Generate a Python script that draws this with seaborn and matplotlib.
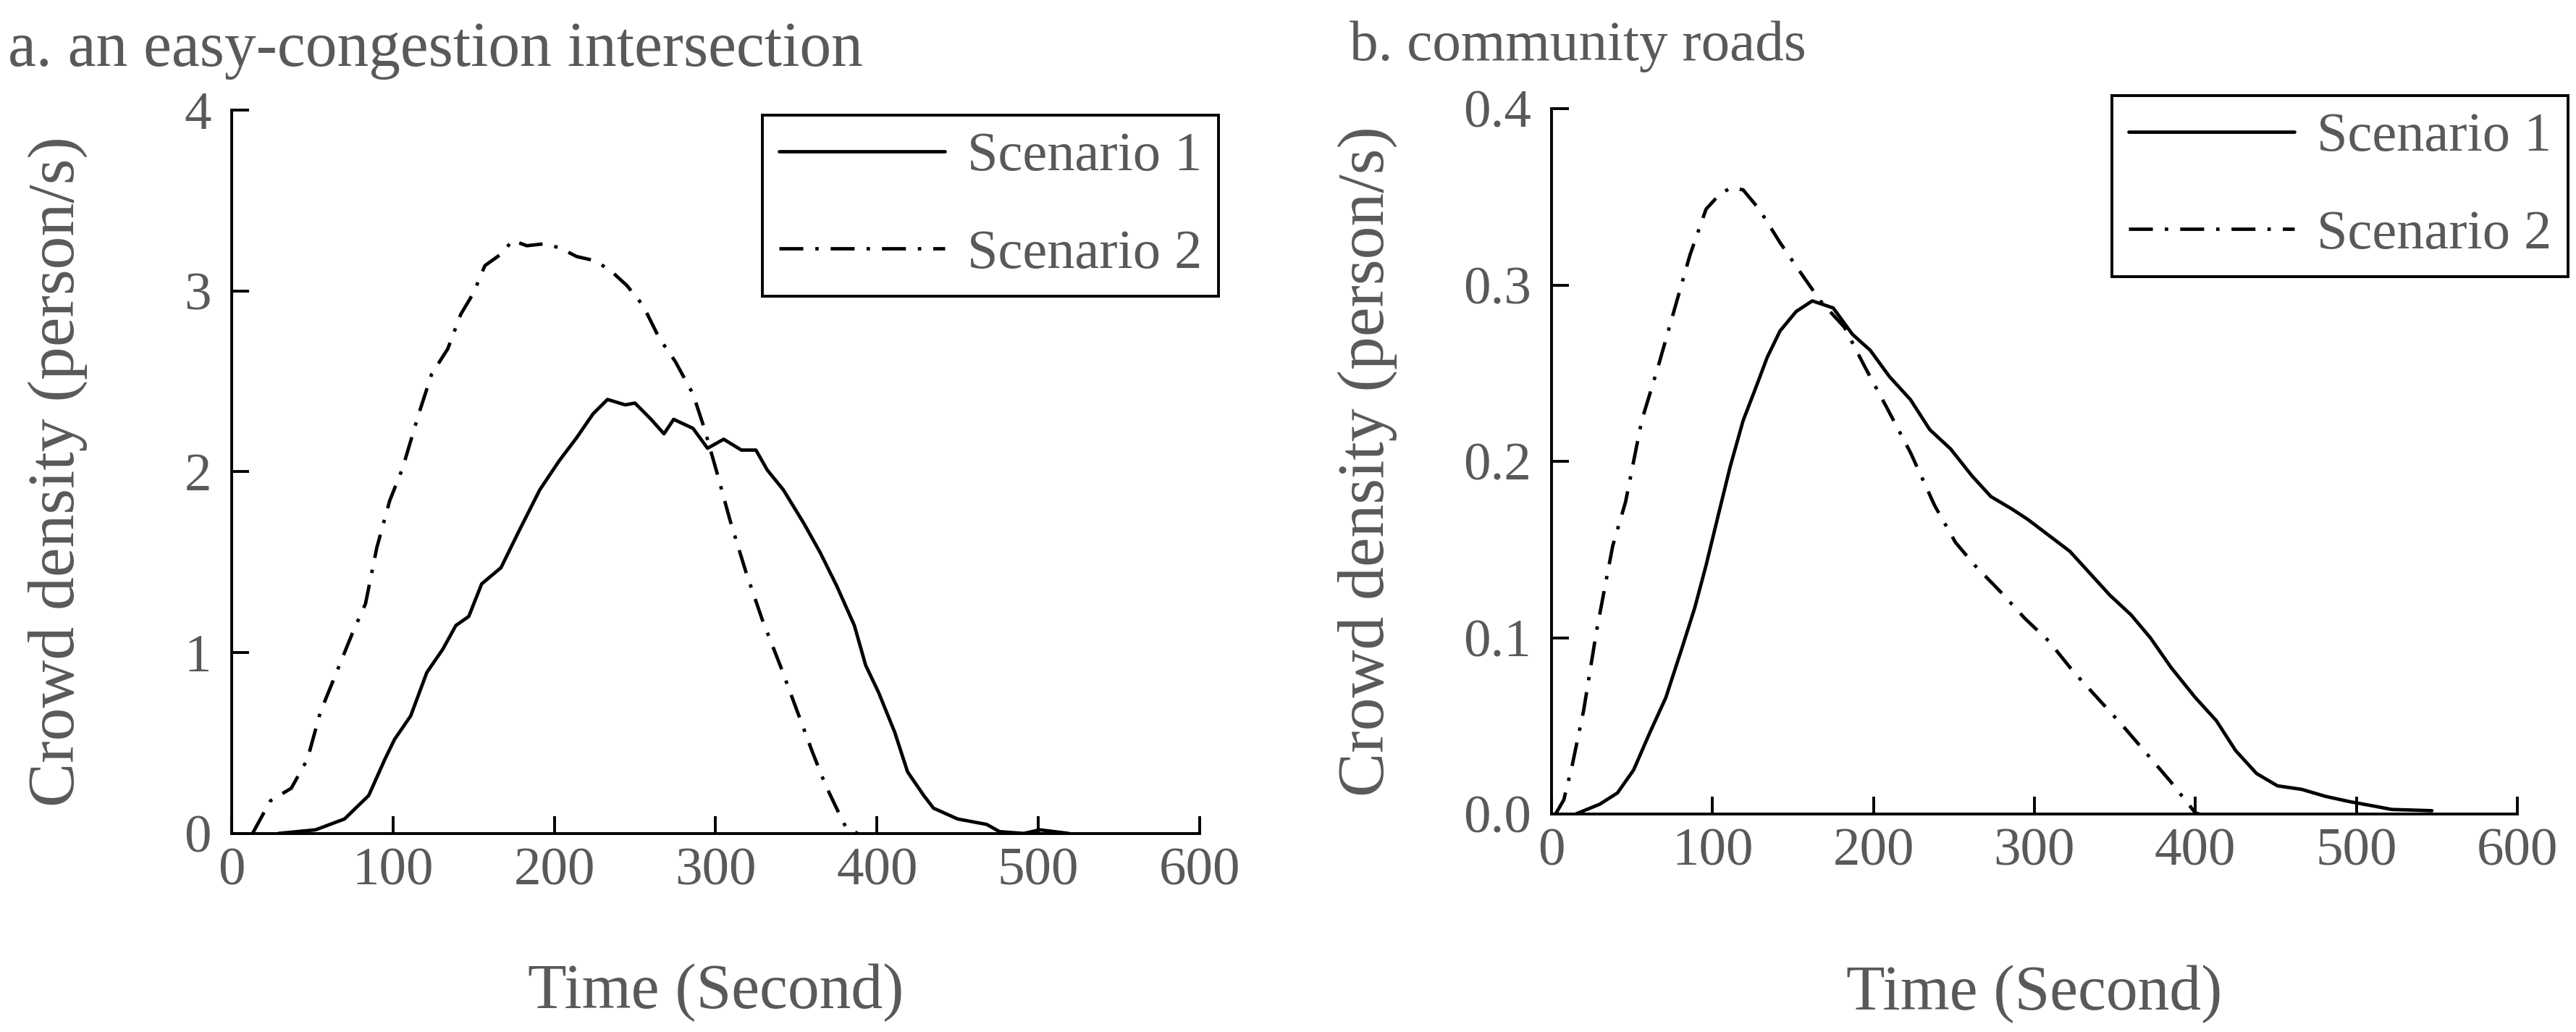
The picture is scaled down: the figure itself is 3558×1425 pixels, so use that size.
import matplotlib
matplotlib.use("Agg")
import matplotlib.pyplot as plt
import seaborn as sns
import numpy as np

# panel a: an easy-congestion intersection
a_s1_time = [29, 52, 70, 85, 95, 101, 111, 121, 131, 139, 147, 155, 167, 178, 191, 203, 214,
             224, 233, 244, 250, 260, 268, 274, 286, 295, 305, 316, 325, 332, 342, 355, 365,
             375, 386, 393, 401, 411, 419, 429, 435, 450, 468, 476, 491, 501, 519]
a_s1_density = [0.0, 0.02, 0.08, 0.21, 0.41, 0.52, 0.65, 0.89, 1.02, 1.15, 1.2, 1.38, 1.47,
                1.67, 1.9, 2.06, 2.19, 2.32, 2.4, 2.37, 2.38, 2.29, 2.21, 2.29, 2.24, 2.13,
                2.18, 2.12, 2.12, 2.01, 1.9, 1.71, 1.55, 1.37, 1.15, 0.93, 0.78, 0.56, 0.34,
                0.21, 0.14, 0.08, 0.05, 0.01, 0.0, 0.02, 0.0]
a_s2_time = [13, 24, 37, 47, 55, 65, 75, 83, 90, 98, 106, 116, 124, 134, 142, 150, 157, 168,
             174, 183, 193, 203, 214, 224, 234, 245, 255, 265, 275, 286, 293, 301, 309, 319,
             329, 340, 350, 360, 368, 376, 381, 388]
a_s2_density = [0.0, 0.18, 0.25, 0.41, 0.67, 0.89, 1.11, 1.27, 1.58, 1.84, 2.02, 2.32, 2.54,
                2.68, 2.87, 2.99, 3.14, 3.21, 3.28, 3.25, 3.26, 3.24, 3.19, 3.17, 3.12, 3.03,
                2.92, 2.74, 2.61, 2.43, 2.24, 1.99, 1.73, 1.44, 1.18, 0.93, 0.69, 0.45, 0.27,
                0.12, 0.03, 0.0]

# panel b: community roads
b_s1_time = [15, 30, 41, 51, 61, 71, 81, 89, 96, 104, 111, 119, 127, 134, 142, 152, 162, 175,
             187, 198, 210, 223, 235, 248, 261, 273, 286, 296, 309, 322, 334, 347, 360, 372,
             385, 400, 413, 425, 438, 451, 466, 481, 496, 511, 522, 547]
b_s1_density = [0.0, 0.0056, 0.012, 0.025, 0.046, 0.066, 0.094, 0.117, 0.141, 0.171, 0.197,
                0.223, 0.242, 0.259, 0.274, 0.285, 0.291, 0.287, 0.272, 0.263, 0.248, 0.235,
                0.218, 0.207, 0.192, 0.180, 0.173, 0.167, 0.158, 0.149, 0.137, 0.124, 0.113,
                0.100, 0.083, 0.066, 0.053, 0.036, 0.023, 0.016, 0.014, 0.010, 0.007, 0.0045,
                0.0026, 0.0019]
b_s2_time = [2.5, 7.6, 12.7, 20, 28, 38, 46, 56, 66, 76, 86, 96, 104, 111, 119, 129, 142, 154,
             167, 182, 195, 208, 223, 238, 251, 263, 279, 294, 309, 324, 339, 354, 370, 385,
             395, 400, 402.5]
b_s2_density = [0.0, 0.008, 0.027, 0.059, 0.104, 0.152, 0.177, 0.223, 0.253, 0.285, 0.317,
                0.343, 0.351, 0.355, 0.354, 0.343, 0.324, 0.308, 0.291, 0.276, 0.253, 0.231,
                0.205, 0.175, 0.154, 0.141, 0.126, 0.111, 0.098, 0.081, 0.066, 0.051, 0.034,
                0.018, 0.0064, 0.0007, 0.0]

series_labels = ["Scenario 1", "Scenario 2"]
a_yticks = [0, 1, 2, 3, 4]
b_yticks = [0.0, 0.1, 0.2, 0.3, 0.4]
xticks = [0, 100, 200, 300, 400, 500, 600]

sns.set_style("ticks")
plt.rcParams["font.family"] = ["Liberation Serif", "DejaVu Serif"]
grey = "#595959"
plt.rcParams["text.color"] = grey
plt.rcParams["axes.labelcolor"] = grey
plt.rcParams["xtick.color"] = "black"
plt.rcParams["ytick.color"] = "black"
plt.rcParams["xtick.labelcolor"] = grey
plt.rcParams["ytick.labelcolor"] = grey

fig = plt.figure(figsize=(35.58, 14.25), dpi=100)
ax1 = fig.add_axes([0.0899, 0.1924, 0.3758, 0.7009])
ax2 = fig.add_axes([0.6023, 0.2112, 0.3749, 0.6835])

dashdot = (0, (7, 3.5, 1.0, 3.5))
lw = 3.4


def draw_panel(ax, s1x, s1y, s2x, s2y, yticks, ylim, yfmt, xlab_y, ylab_x):
    sns.lineplot(x=s1x, y=s1y, ax=ax, color="black", linewidth=lw,
                 estimator=None, sort=False, label=series_labels[0])
    sns.lineplot(x=s2x, y=s2y, ax=ax, color="black", linewidth=lw,
                 estimator=None, sort=False, label=series_labels[1], linestyle=dashdot)
    ax.set_xlim(0, 600)
    ax.set_ylim(*ylim)
    ax.set_xticks(xticks)
    ax.set_yticks(yticks)
    ax.set_yticklabels([yfmt.format(v) for v in yticks])
    sns.despine(ax=ax)
    for side in ["left", "bottom"]:
        ax.spines[side].set_linewidth(2.8)
        ax.spines[side].set_color("black")
    ax.tick_params(axis="both", direction="in", length=17, width=2.8, labelsize=54)
    ax.tick_params(axis="y", pad=20)
    ax.tick_params(axis="x", pad=14)
    ax.set_xlabel("Time (Second)", fontsize=63, va="center")
    ax.set_ylabel("Crowd density (person/s)", fontsize=66, va="center")
    ax.xaxis.set_label_coords(0.5, xlab_y)
    ax.yaxis.set_label_coords(ylab_x, 0.5)
    ax.get_legend().remove()


draw_panel(ax1, a_s1_time, a_s1_density, a_s2_time, a_s2_density,
           a_yticks, (0, 4), "{:.0f}", -0.22, -0.18)
draw_panel(ax2, b_s1_time, b_s1_density, b_s2_time, b_s2_density,
           b_yticks, (0, 0.4), "{:.1f}", -0.255, -0.191)

for ax, anchor in [(ax1, (0.4730, 0.8884)), (ax2, (0.9969, 0.9074))]:
    handles, labels = ax.get_legend_handles_labels()
    leg = fig.legend(handles, labels, loc="upper right", bbox_to_anchor=anchor,
                     fontsize=55, handlelength=3.0, handletextpad=0.4,
                     labelspacing=0.85, borderpad=0.3, borderaxespad=0,
                     fancybox=False, framealpha=1, edgecolor="black")
    leg.get_frame().set_linewidth(2.8)

fig.text(0.003, 0.936, "a. an easy-congestion intersection", fontsize=63, va="baseline")
fig.text(0.524, 0.942, "b. community roads", fontsize=57, va="baseline")

fig.savefig("out.png", dpi=100, facecolor="white")
